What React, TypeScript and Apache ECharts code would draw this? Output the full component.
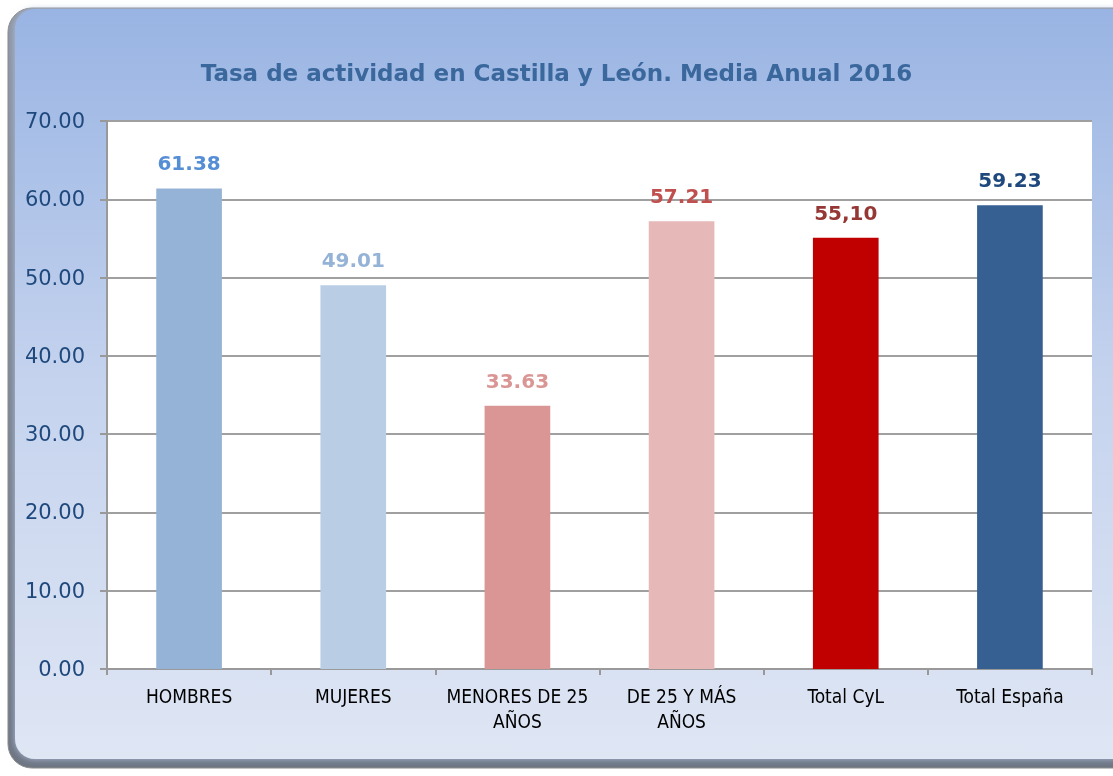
import React, { useEffect, useRef } from "react";
import * as echarts from "echarts";

const titleText = "Tasa de actividad en Castilla y León. Media Anual 2016";
const categories = ["HOMBRES", "MUJERES", "MENORES DE 25\nAÑOS", "DE 25 Y MÁS\nAÑOS", "Total CyL", "Total España"];
const values = [61.38, 49.01, 33.63, 57.21, 55.1, 59.23];
const valueLabels = ["61.38", "49.01", "33.63", "57.21", "55,10", "59.23"];
const barColors = ["#95b3d7", "#b9cde5", "#da9694", "#e6b9b8", "#c00000", "#366092"];
const labelColors = ["#558ed5", "#95b3d7", "#da9694", "#c0504d", "#953735", "#1f497d"];
const yMin = 0;
const yMax = 70;
const yInterval = 10;

export default function App() {
  const ref = useRef<HTMLDivElement>(null);
  useEffect(() => {
    if (!ref.current) return;
    const chart = echarts.init(ref.current, undefined, { renderer: "svg" });
    chart.setOption({
      animation: false,
      graphic: [
        {
          type: "rect",
          z: -10,
          shape: { x: 8, y: 8, width: 1140, height: 760, r: 24 },
          style: {
            fill: new echarts.graphic.LinearGradient(0, 0, 0, 1, [
              { offset: 0, color: "#8e98a8" },
              { offset: 1, color: "#6e7684" },
            ]),
            stroke: "#8a8a8a",
            lineWidth: 1,
          },
        },
        {
          type: "rect",
          z: -9,
          shape: { x: 15, y: 9, width: 1130, height: 750, r: 20 },
          style: {
            fill: new echarts.graphic.LinearGradient(0, 0, 0, 1, [
              { offset: 0, color: "#99b4e3" },
              { offset: 0.5, color: "#c5d3ee" },
              { offset: 1, color: "#dfe6f4" },
            ]),
            shadowBlur: 6,
            shadowColor: "rgba(180,195,225,0.9)",
          },
        },
      ],
      title: {
        text: titleText,
        left: "center",
        top: 56,
        textStyle: {
          fontFamily: "DejaVu Sans",
          fontWeight: "bold",
          fontSize: 23,
          color: "#3a679c",
        },
      },
      grid: { left: 107, top: 121, right: 21, bottom: 107, containLabel: false,
        show: true, backgroundColor: "#ffffff", borderWidth: 0 },
      xAxis: {
        type: "category",
        data: categories,
        axisLine: { lineStyle: { color: "#999999", width: 2 } },
        axisTick: { show: true, alignWithLabel: false, length: 6, lineStyle: { color: "#999999", width: 2 } },
        axisLabel: {
          interval: 0,
          margin: 14,
          fontFamily: "DejaVu Sans Condensed",
          fontSize: 19,
          lineHeight: 25,
          color: "#000000",
        },
      },
      yAxis: {
        type: "value",
        min: yMin,
        max: yMax,
        interval: yInterval,
        axisLine: { show: true, lineStyle: { color: "#999999", width: 2 } },
        axisTick: { show: true, length: 7, lineStyle: { color: "#999999", width: 2 } },
        splitLine: { lineStyle: { color: "#a0a0a0", width: 2 } },
        axisLabel: {
          margin: 22,
          fontFamily: "DejaVu Sans",
          fontSize: 21,
          color: "#1f497d",
          formatter: (v: number) => v.toFixed(2),
        },
      },
      series: [
        {
          type: "bar",
          barWidth: "40%",
          data: values.map((v, i) => ({
            value: v,
            itemStyle: { color: barColors[i] },
            label: {
              show: true,
              position: "top",
              distance: 15,
              formatter: valueLabels[i],
              fontFamily: "DejaVu Sans",
              fontWeight: "bold",
              fontSize: 20,
              color: labelColors[i],
            },
          })),
        },
      ],
    });
    return () => chart.dispose();
  }, []);
  return (
    <div
      ref={ref}
      style={{ position: "fixed", left: 0, top: 0, width: 1113, height: 776 }}
    />
  );
}
